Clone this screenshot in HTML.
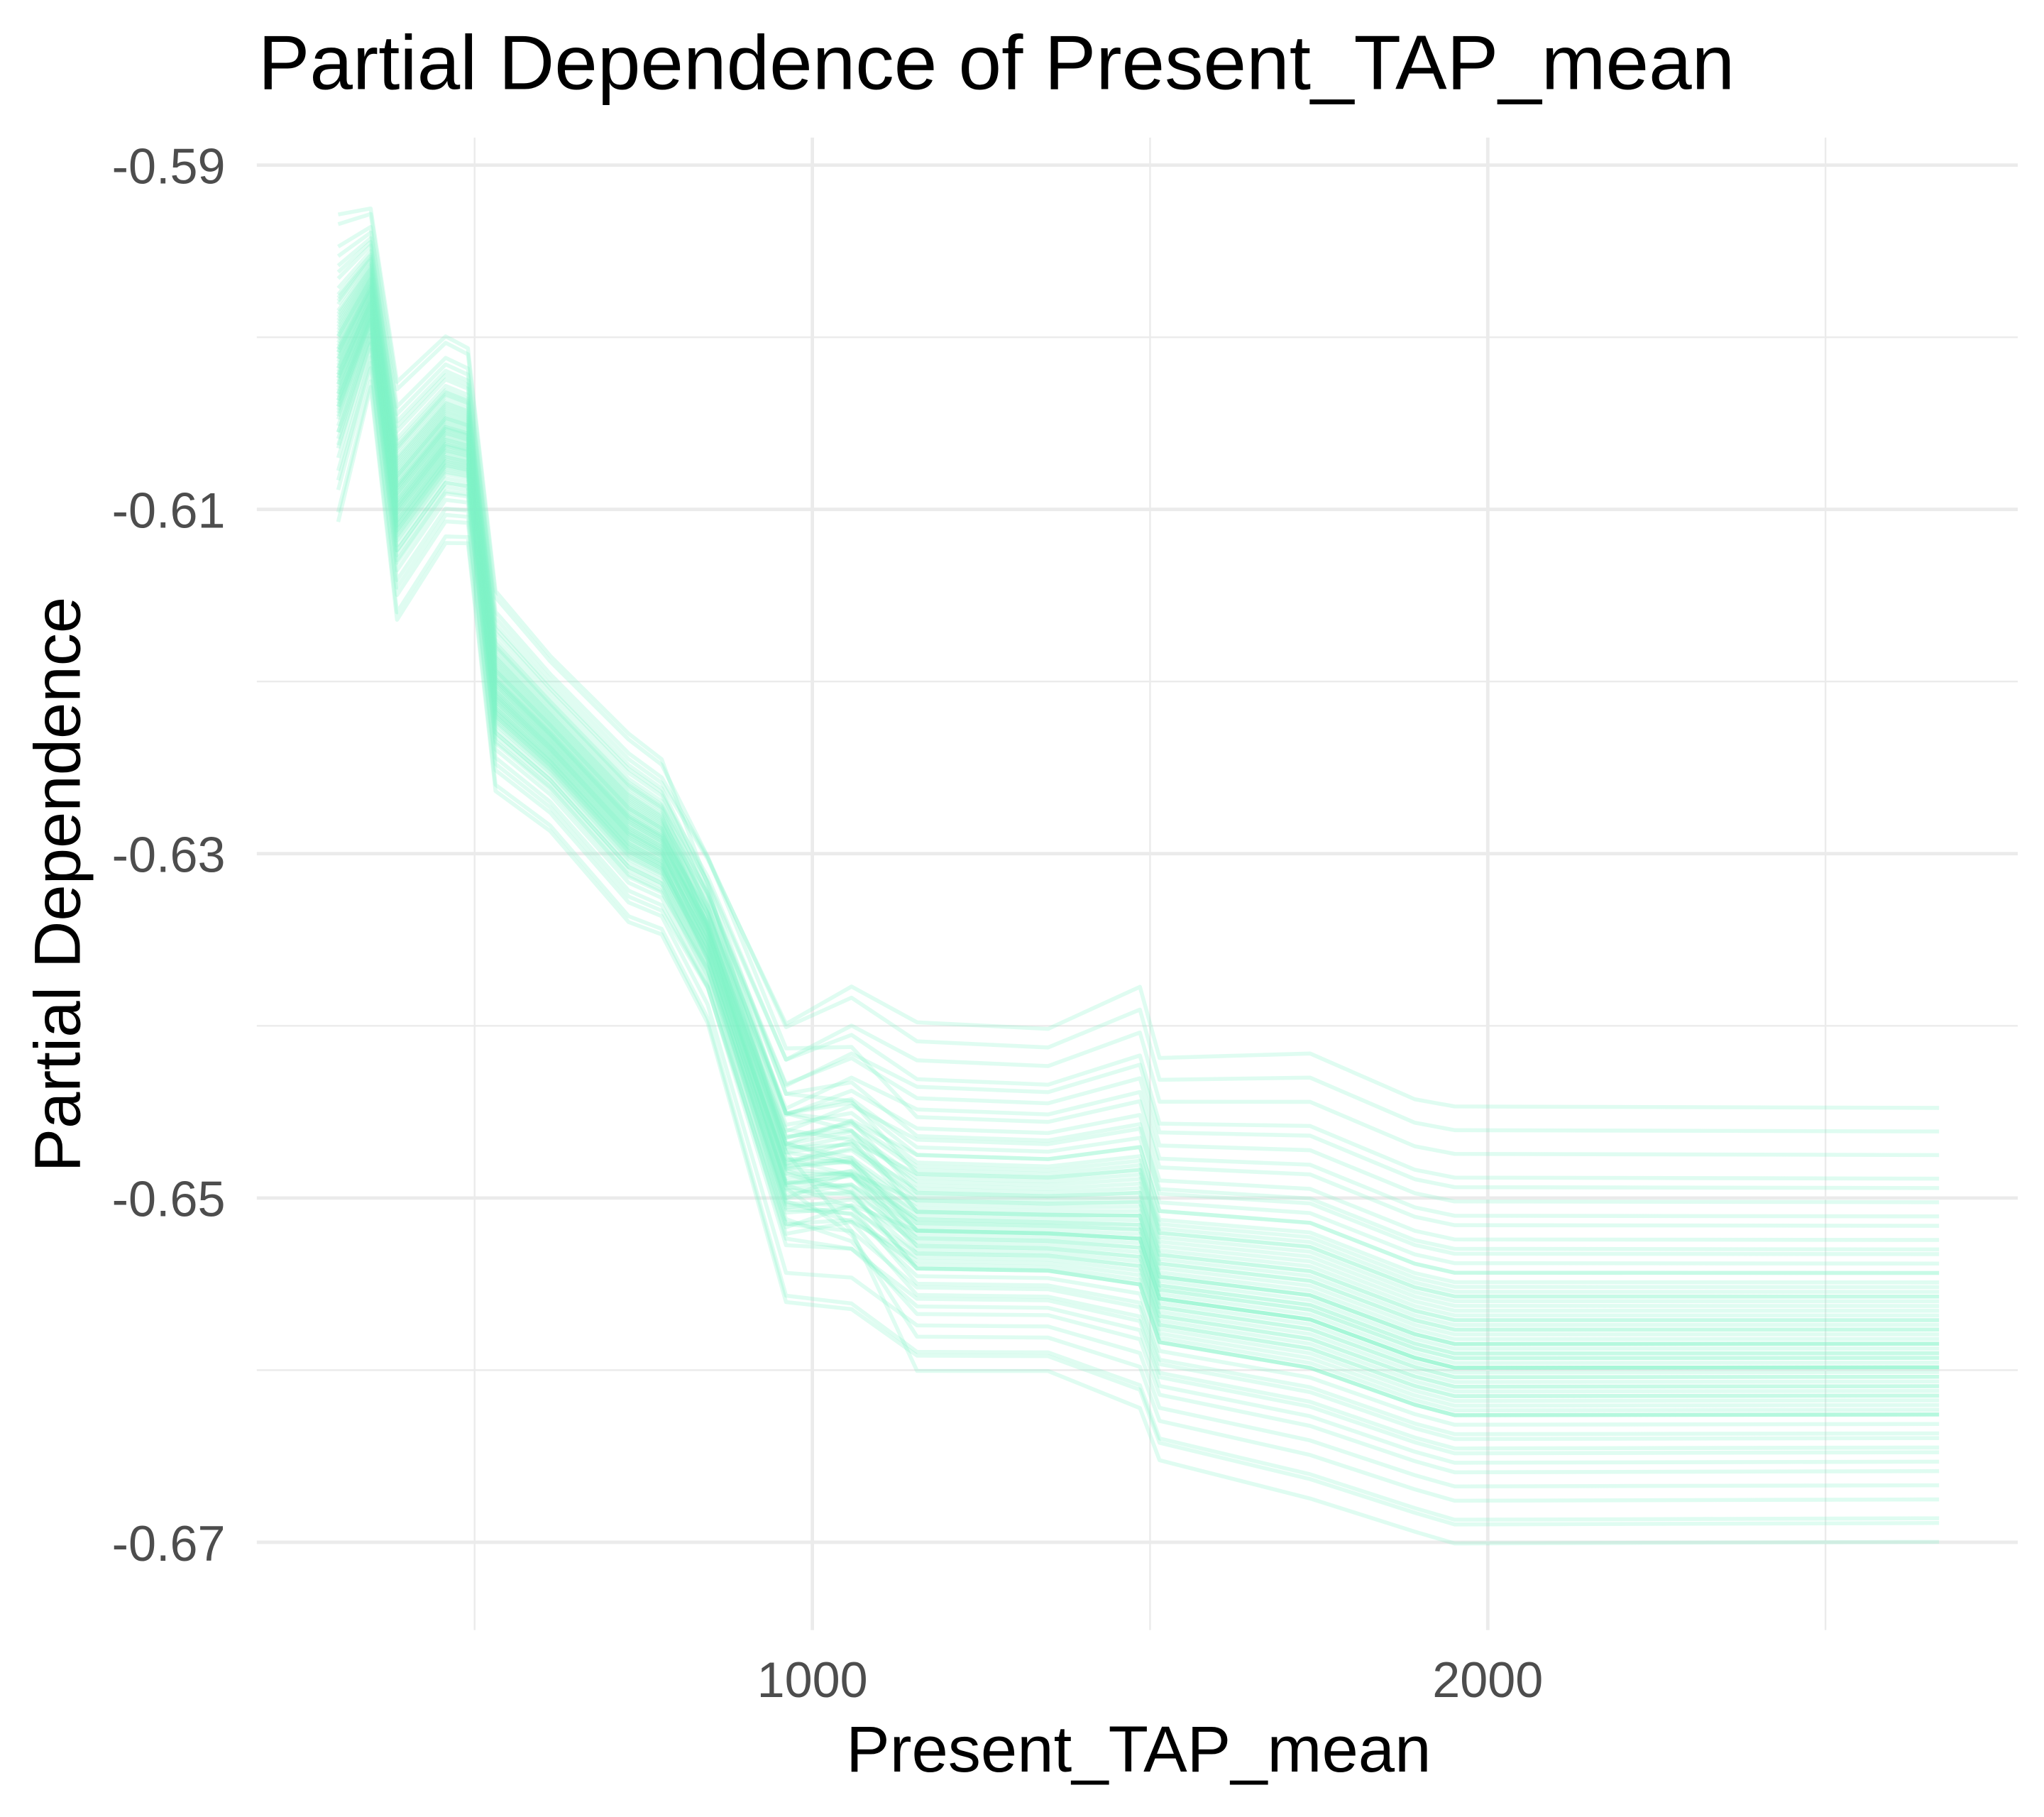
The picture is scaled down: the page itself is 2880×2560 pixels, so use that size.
<!DOCTYPE html>
<html><head><meta charset="utf-8"><style>html,body{margin:0;padding:0;background:#fff}svg{display:block}</style></head>
<body>
<svg id="chart" width="2880" height="2560" viewBox="0 0 1560 1386.67" xmlns="http://www.w3.org/2000/svg" font-family="Liberation Sans, Arial, sans-serif">
<rect width="1560" height="1387" fill="#fff"/>
<g id="grid"></g>
<g id="lines"></g>
<g id="axes"></g>
<text x="197" y="68" font-size="59" fill="#000">Partial Dependence of Present_TAP_mean</text>
<text x="869" y="1352" font-size="50" text-anchor="middle" fill="#000">Present_TAP_mean</text>
<text transform="translate(61,675) rotate(-90)" font-size="50" text-anchor="middle" fill="#000">Partial Dependence</text>
</svg>
<script>
// data
const xValues = [298,346,385,457,490,531,612,728,777,845,961,1058,1155,1349,1485,1514,1737,1892,1951,2668];
const topValues = [-0.5925,-0.5923,-0.6023,-0.5997,-0.6004,-0.6145,-0.6183,-0.6228,-0.6243,-0.6289,-0.6380,-0.6361,-0.6387,-0.6391,-0.6364,-0.6406,-0.6402,-0.6429,-0.6433,-0.6434];
const bottomValues = [-0.6111,-0.6031,-0.6167,-0.6122,-0.6122,-0.6266,-0.6289,-0.6342,-0.6349,-0.6402,-0.6569,-0.6577,-0.6607,-0.6607,-0.6630,-0.6660,-0.6683,-0.6702,-0.6709,-0.6708];
const curveEarly = [0.05,0.12,0.18,0.22,0.25,0.28,0.3,0.32,0.34,0.35,0.37,0.38,0.4,0.41,0.42,0.43,0.44,0.45,0.46,0.47,0.48,0.49,0.5,0.51,0.52,0.53,0.54,0.55,0.56,0.57,0.58,0.59,0.6,0.61,0.62,0.63,0.64,0.66,0.68,0.7,0.72,0.75,0.78,0.82,0.88,0.95,0.15,0.27,0.36,0.44,0.5,0.55,0.6,0.65,0.7,0.4,0.45,0.52,0.58,0.33,0.02,0.98,0.47,0.53,0.39,0.62,0.29,0.74,0.2,0.85];
const curveLate = [0.3,0.1,0.45,0.2,0.5,0.35,0.55,0.25,0.6,0.4,0.38,0.65,0.42,0.48,0.7,0.33,0.52,0.58,0.44,0.62,0.46,0.5,0.36,0.56,0.6,0.64,0.4,0.53,0.66,0.49,0.57,0.72,0.61,0.45,0.68,0.55,0.7,0.59,0.75,0.63,0.8,0.52,0.78,0.67,0.85,0.92,0.05,0.15,0.22,0.28,0.47,0.54,0.58,0.62,0.66,0.7,0.74,0.77,0.82,0.88,0.97,0.93,0.43,0.51,0.6,0.57,0.64,0.69,0.55,0.6];
const yTicks = [-0.59,-0.61,-0.63,-0.65,-0.67];
const yTickLabels = ["-0.59","-0.61","-0.63","-0.65","-0.67"];
const yMinor = [-0.60,-0.62,-0.64,-0.66];
const xTicks = [1000,2000];
const xTickLabels = ["1000","2000"];
const xMinor = [500,1500,2500];

const NS='http://www.w3.org/2000/svg';
const L=196,R=1540,T=105,B=1244;
const sx=v=>620+(v-1000)*0.5155;
const sy=v=>126+(-0.59-v)/0.02*262.75;
function mk(tag,attrs,parent){const e=document.createElementNS(NS,tag);for(const k in attrs)e.setAttribute(k,attrs[k]);parent.appendChild(e);return e;}
const grid=document.getElementById('grid'),axes=document.getElementById('axes'),lines=document.getElementById('lines');
yMinor.forEach(v=>{const e=mk('line',{x1:L,x2:R,y1:sy(v),y2:sy(v),stroke:'#ebebeb','stroke-width':1.3},grid);

});
xMinor.forEach(v=>{const e=mk('line',{x1:sx(v),x2:sx(v),y1:T,y2:B,stroke:'#ebebeb','stroke-width':1.3},grid);

});
yTicks.forEach((v,i)=>{const e=mk('line',{x1:L,x2:R,y1:sy(v),y2:sy(v),stroke:'#ebebeb','stroke-width':2.6},grid);


const t=mk('text',{x:172,y:sy(v)+14,'font-size':38,'text-anchor':'end',fill:'#4d4d4d'},axes);t.textContent=yTickLabels[i];

});
xTicks.forEach((v,i)=>{const e=mk('line',{x1:sx(v),x2:sx(v),y1:T,y2:B,stroke:'#ebebeb','stroke-width':2.6},grid);


const t=mk('text',{x:sx(v),y:1295,'font-size':38,'text-anchor':'middle',fill:'#4d4d4d'},axes);t.textContent=xTickLabels[i];

});
curveEarly.forEach((qe,i)=>{const ql=curveLate[i];
 const pts=xValues.map((x,j)=>{const w=Math.min(1,Math.max(0,(j-8)/4));const q=qe*(1-w)+ql*w;
  const v=topValues[j]+q*(bottomValues[j]-topValues[j]);return sx(x).toFixed(1)+','+sy(v).toFixed(1);});
 const p=mk('polyline',{points:pts.join(' '),fill:'none',stroke:'#7ff2c8','stroke-opacity':0.25,'stroke-width':3,'stroke-linejoin':'round'},lines);
 
 
});
</script>
</body></html>
